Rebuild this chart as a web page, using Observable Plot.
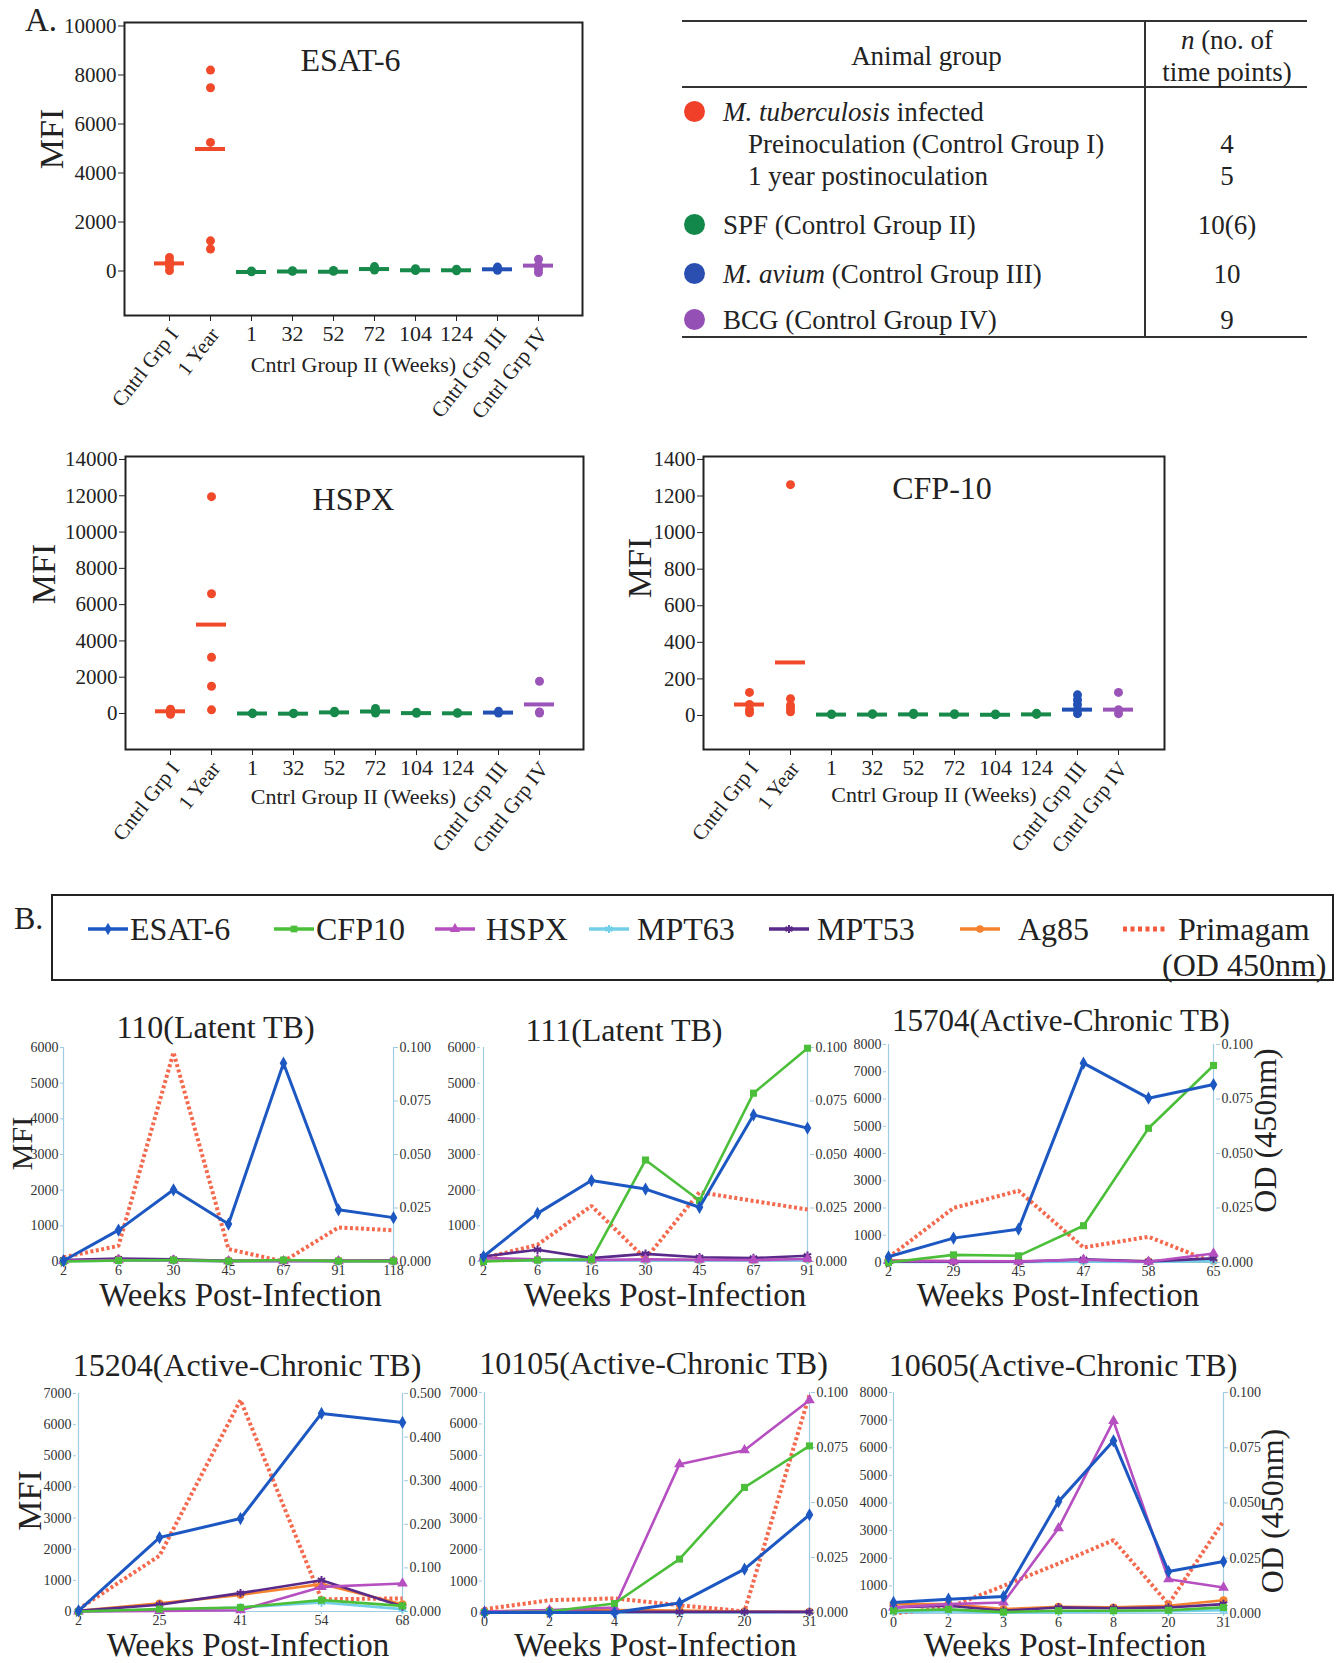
<!DOCTYPE html>
<html>
<head>
<meta charset="utf-8">
<title>Antigen responses</title>
<script src="https://cdn.jsdelivr.net/npm/d3@7"></script>
<script src="https://cdn.jsdelivr.net/npm/@observablehq/plot@0.6"></script>
<style>
html,body{margin:0;padding:0;background:#fff;}
#fig{position:relative;width:1343px;height:1663px;overflow:hidden;background:#fff;font-family:"Liberation Serif","Times New Roman",serif;color:#222;}
#fig > *{position:absolute;}
</style>
</head>
<body>
<div id="fig"></div>
<script>
// ================= DATA : Panel A (dot plots) =================
const groupCats = ["Cntrl Grp I","1 Year","1","32","52","72","104","124","Cntrl Grp III","Cntrl Grp IV"];
const rotatedCats = ["Cntrl Grp I","1 Year","Cntrl Grp III","Cntrl Grp IV"];
const weekCats = ["1","32","52","72","104","124"];
const groupColors = ["#f04a2a","#f04a2a","#17894a","#17894a","#17894a","#17894a","#17894a","#17894a","#2250b5","#9b55b8"];

// ESAT-6 (index into groupCats, value)
const esatDotGroup = [0,0,0,0, 1,1,1,1,1, 2,2, 3,3, 4,4, 5,5,5, 6,6, 7,7, 8,8,8, 9,9,9,9];
const esatDotVal   = [550,400,200,20, 8200,7480,5250,1230,900, -30,0, -10,10, -10,20, 40,120,180, 20,90, 10,70, 30,100,160, -60,80,220,480];
const esatMean     = [310, 4980, -40, -20, -30, 80, 30, 30, 70, 220];
const esatTicks    = [0, 2000, 4000, 6000, 8000, 10000];

// HSPX
const hspxDotGroup = [0,0,0,0, 1,1,1,1,1, 2,2, 3,3, 4,4, 5,5,5, 6,6, 7,7, 8,8, 9,9,9];
const hspxDotVal   = [240,150,60,-40, 11950,6600,3100,1500,200, -10,20, -10,10, 40,130, 20,110,280, 10,70, 10,40, 30,120, 1780,30,80];
const hspxMean     = [120, 4900, 0, -10, 60, 110, 20, 10, 50, 500];
const hspxTicks    = [0, 2000, 4000, 6000, 8000, 10000, 12000, 14000];

// CFP-10
const cfpDotGroup = [0,0,0,0, 1,1,1,1,1, 2,2, 3,3, 4,4, 5,5, 6,6, 7,7, 8,8,8,8,8, 9,9,9];
const cfpDotVal   = [126,60,32,15, 1262,92,55,38,20, 5,8, 6,10, 5,12, 5,10, 4,8, 6,12, 113,86,60,32,10, 126,32,10];
const cfpMean     = [60, 290, 5, 5, 6, 5, 4, 6, 32, 32];
const cfpTicks    = [0, 200, 400, 600, 800, 1000, 1200, 1400];

// Table
const tableLabels = ["<i>M. tuberculosis</i> infected","Preinoculation (Control Group I)","1 year postinoculation","SPF (Control Group II)","<i>M. avium</i> (Control Group III)","BCG (Control Group IV)"];
const tableCounts = ["","4","5","10(6)","10","9"];
const tableDotColors = ["#f0402a",null,null,"#12884a","#2a4fb0","#9550b5"];
const tableIndent = [false,true,true,false,false,false];

// ================= DATA : Panel B (line charts) =================
const seriesNames   = ["ESAT-6","CFP10","HSPX","MPT63","MPT53","Ag85"];
const seriesColors  = ["#1d58c2","#4cbf3a","#b650c0","#72cfe8","#5a2a8a","#f5822f"];
const seriesSymbols = ["diamond","square","triangle","asterisk","asterisk","circle"];
const primaName = "Primagam";
const primaColor = "#f35a3c";

const weeks110   = ["2","6","30","45","67","91","118"];
const esat110    = [20, 880, 2010, 1050, 5560, 1450, 1230];
const cfp110     = [0, 30, 40, 10, 40, 10, 10];
const hspx110    = [20, 40, 30, 10, 10, 10, 10];
const mpt63_110  = [10, 20, 20, 10, 10, 10, 10];
const mpt53_110  = [40, 80, 60, 20, 20, 20, 30];
const ag85_110   = [30, 60, 40, 20, 30, 20, 20];
const prima110   = [0.002, 0.0073, 0.0977, 0.0058, 0.0, 0.0159, 0.0146];

const weeks111   = ["2","6","16","30","45","67","91"];
const esat111    = [140, 1350, 2270, 2030, 1520, 4110, 3740];
const cfp111     = [0, 40, 60, 2845, 1710, 4720, 5980];
const hspx111    = [100, 60, 40, 60, 50, 40, 70];
const mpt63_111  = [20, 20, 20, 30, 30, 30, 40];
const mpt53_111  = [140, 330, 95, 215, 120, 95, 160];
const ag85_111   = [60, 40, 30, 40, 40, 40, 60];
const prima111   = [0.0016, 0.0078, 0.026, 0.0012, 0.0324, 0.0283, 0.0243];

const weeks15704  = ["2","29","45","47","58","65"];
const esat15704   = [210, 895, 1225, 7315, 6030, 6530];
const cfp15704    = [0, 280, 245, 1350, 4925, 7230];
const hspx15704   = [60, 50, 40, 100, 30, 330];
const mpt63_15704 = [20, 20, 20, 30, 20, 50];
const mpt53_15704 = [40, 30, 30, 120, 40, 150];
const ag85_15704  = [80, 40, 30, 60, 40, 60];
const prima15704  = [0.0023, 0.025, 0.0329, 0.0069, 0.0118, 0.0];

const weeks15204  = ["2","25","41","54","68"];
const esat15204   = [20, 2375, 2985, 6360, 6070];
const cfp15204    = [0, 75, 130, 365, 180];
const hspx15204   = [0, 20, 40, 790, 900];
const mpt63_15204 = [0, 40, 130, 290, 75];
const mpt53_15204 = [20, 215, 590, 1005, 160];
const ag85_15204  = [20, 260, 535, 880, 235];
const prima15204  = [0.0054, 0.128, 0.485, 0.028, 0.030];

const weeks10105  = ["0","2","4","7","20","31"];
const esat10105   = [0, 0, 0, 300, 1380, 3110];
const cfp10105    = [0, 30, 285, 1700, 3980, 5300];
const hspx10105   = [30, 75, 160, 4720, 5165, 6755];
const mpt63_10105 = [0, 0, 0, 0, 0, 10];
const mpt53_10105 = [20, 20, 20, 20, 20, 20];
const ag85_10105  = [40, 60, 80, 60, 30, 20];
const prima10105  = [0.0015, 0.0056, 0.0064, 0.0033, 0.0005, 0.099];

const weeks10605  = ["0","2","3","6","8","20","31"];
const esat10605   = [400, 520, 615, 4050, 6250, 1520, 1880];
const cfp10605    = [100, 150, 50, 100, 100, 120, 220];
const hspx10605   = [220, 340, 400, 3090, 6970, 1240, 940];
const mpt63_10605 = [50, 80, 30, 60, 70, 80, 120];
const mpt53_10605 = [220, 280, 100, 220, 190, 220, 340];
const ag85_10605  = [340, 340, 160, 240, 220, 280, 480];
const prima10605  = [0.0, 0.0027, 0.0125, 0.0226, 0.0332, 0.0042, 0.0419];

// ================= RENDERING =================
const fig = document.getElementById("fig");
const FONT = '"Liberation Serif", "Times New Roman", serif';
const AXIS_BLUE = "#9fcbe3";

function put(el, x, y) { el.style.left = x + "px"; el.style.top = y + "px"; fig.appendChild(el); return el; }
function div(html, x, y, css) {
  const d = document.createElement("div");
  d.innerHTML = html;
  if (css) d.style.cssText = css;
  return put(d, x, y);
}

// ---------- Panel A dot plots ----------
function dotPanel(p) {
  const dots = p.dotGroup.map((g, i) => ({cat: groupCats[g], v: p.dotVal[i], c: groupColors[g]}));
  const means = p.mean.map((v, i) => ({cat: groupCats[i], v, c: groupColors[i]}));
  const svg = Plot.plot({
    width: p.W, height: p.H,
    marginLeft: p.mL, marginRight: p.mR, marginTop: p.mT, marginBottom: p.mB,
    style: {background: "transparent", overflow: "visible", fontFamily: FONT, color: "#222"},
    x: {type: "band", domain: groupCats, paddingInner: 0.28, paddingOuter: 0.64, axis: null},
    y: {domain: p.yDomain, axis: null},
    color: {type: "identity"},
    marks: [
      Plot.axisY(p.yTicks, {anchor: "left", tickSize: 6, tickPadding: 2, fontSize: 21, tickFormat: "d", label: null, color: "#222"}),
      Plot.axisX(groupCats, {anchor: "bottom", tickSize: 6, tickPadding: 4, fontSize: 22, label: null, color: "#222",
        tickFormat: d => weekCats.includes(d) ? d : ""}),
      Plot.text(rotatedCats, {x: d => d, text: d => d, frameAnchor: "bottom", rotate: -52, textAnchor: "end", lineAnchor: "top",
        dx: -2, dy: 10, fontSize: 21, fill: "#222"}),
      Plot.tickY(means, {x: "cat", y: "v", stroke: "c", strokeWidth: 4}),
      Plot.dot(dots, {x: "cat", y: "v", fill: "c", r: 4.5}),
      Plot.frame({stroke: "#222", strokeWidth: 2}),
      Plot.text([p.title], {text: d => d, frameAnchor: "top", lineAnchor: "middle", dx: p.tdx, dy: p.tdy, fontSize: 32, fill: "#222"}),
      Plot.text(["MFI"], {text: d => d, frameAnchor: "left", textAnchor: "middle", lineAnchor: "middle", rotate: -90, dx: p.mdx, dy: p.mdy, fontSize: 34, fill: "#222"}),
      Plot.text(["Cntrl Group II (Weeks)"], {text: d => d, frameAnchor: "bottom", lineAnchor: "middle", dx: p.xdx, dy: p.xdy, fontSize: 22, fill: "#222"})
    ]
  });
  put(svg, p.left, p.top);
}

dotPanel({title: "ESAT-6", dotGroup: esatDotGroup, dotVal: esatDotVal, mean: esatMean, yTicks: esatTicks, yDomain: [-1816, 10143],
  left: 0, top: 0, W: 600, H: 430, mL: 124, mR: 18, mT: 22, mB: 115, tdx: -3, tdy: 38, mdx: -72, mdy: -30, xdx: 0, xdy: 49});
dotPanel({title: "HSPX", dotGroup: hspxDotGroup, dotVal: hspxDotVal, mean: hspxMean, yTicks: hspxTicks, yDomain: [-1985, 14165],
  left: 0, top: 430, W: 600, H: 440, mL: 125, mR: 17, mT: 26, mB: 121, tdx: -1, tdy: 43, mdx: -81, mdy: -29, xdx: -1, xdy: 47});
dotPanel({title: "CFP-10", dotGroup: cfpDotGroup, dotVal: cfpDotVal, mean: cfpMean, yTicks: cfpTicks, yDomain: [-186, 1416],
  left: 600, top: 430, W: 620, H: 440, mL: 103, mR: 56, mT: 26, mB: 121, tdx: 8, tdy: 32, mdx: -63, mdy: -35, xdx: 0, xdy: 45});

div("A.", 25, 4, "font-size:33px;line-height:33px;");

// ---------- Panel A table ----------
const line = (x, y, w, h) => div("", x, y, `width:${w}px;height:${h}px;background:#333;`);
line(682, 20, 625, 2);
line(682, 86, 625, 2);
line(682, 336, 625, 2);
line(1144, 20, 2, 318);
div("Animal group", 695, 40, "width:463px;text-align:center;font-size:27px;line-height:32px;");
div("<i>n</i> (no. of", 1146, 24, "width:162px;text-align:center;font-size:27px;line-height:32px;");
div("time points)", 1146, 56, "width:162px;text-align:center;font-size:27px;line-height:32px;");
const rowCenters = [112, 144, 176, 225, 274, 320];
tableLabels.forEach((lab, i) => {
  const cy = rowCenters[i];
  if (tableDotColors[i]) div("", 684, cy - 11, `width:21px;height:21px;border-radius:50%;background:${tableDotColors[i]};`);
  div(lab, tableIndent[i] ? 748 : 723, cy - 16, "font-size:27px;line-height:32px;white-space:nowrap;");
  if (tableCounts[i]) div(tableCounts[i], 1146, cy - 16, "width:162px;text-align:center;font-size:27px;line-height:32px;");
});

// ---------- Panel B legend ----------
div("", 51, 894, "width:1283px;height:87px;border:2px solid #222;box-sizing:border-box;");
div("B.", 14, 902, "font-size:32px;line-height:32px;");
const legendSwatchX = [88, 274, 435, 589, 769, 960, 1122];
const legendTextX = [130, 316, 486, 637, 817, 1018, 1178];
const legendNames = [...seriesNames, primaName];
legendNames.forEach((name, i) => {
  const isPrima = i === seriesNames.length;
  const col = isPrima ? primaColor : seriesColors[i];
  let sw;
  if (isPrima) {
    sw = `<svg width="46" height="20"><line x1="1" y1="10" x2="45" y2="10" stroke="${col}" stroke-width="5" stroke-dasharray="4,3.5"/></svg>`;
  } else {
    const symMap = {diamond: d3.symbolDiamond, square: d3.symbolSquare, triangle: d3.symbolTriangle, asterisk: d3.symbolAsterisk, circle: d3.symbolCircle};
    const path = d3.symbol(symMap[seriesSymbols[i]], 45)();
    const hollow = seriesSymbols[i] === "asterisk";
    sw = `<svg width="44" height="20"><line x1="0" y1="10" x2="40" y2="10" stroke="${col}" stroke-width="3.5"/><path transform="translate(20,10)" d="${path}" fill="${hollow ? "none" : col}" stroke="${col}" stroke-width="${hollow ? 2 : 0}"/></svg>`;
  }
  div(sw, legendSwatchX[i], 919, "line-height:0;");
  div(name, legendTextX[i], 912, "font-size:32px;line-height:34px;white-space:nowrap;");
});
div("(OD 450nm)", 1162, 948, "font-size:32px;line-height:34px;white-space:nowrap;");

// ---------- Panel B line charts ----------
function linePanel(p) {
  const k = p.ymax / p.rmax;
  const order = [5, 3, 4, 2, 1, 0];
  const prima = p.prima.map((od, i) => ({w: p.weeks[i], v: od * k}));
  const rTicks = d3.range(0, p.rmax + p.rstep / 2, p.rstep).map(v => v * k);
  const marks = [
    Plot.ruleY([0], {stroke: AXIS_BLUE, strokeWidth: 1.2}),
    Plot.ruleX([p.weeks[0], p.weeks[p.weeks.length - 1]], {stroke: AXIS_BLUE, strokeWidth: 1.2}),
    Plot.axisY(d3.range(0, p.ymax + 1, 1000), {anchor: "left", tickSize: 3, tickPadding: 2, fontSize: 14, stroke: AXIS_BLUE, fill: "#333", tickFormat: "d", label: null}),
    Plot.axisY(rTicks, {anchor: "right", tickSize: 4, tickPadding: 2, fontSize: 14, stroke: AXIS_BLUE, fill: "#333", tickFormat: d => (d / k).toFixed(3), label: null}),
    Plot.axisX(p.weeks, {anchor: "bottom", tickSize: 3, tickPadding: 1, fontSize: 14, stroke: AXIS_BLUE, fill: "#333", label: null}),
    Plot.line(prima, {x: "w", y: "v", stroke: primaColor, strokeOpacity: 0.9, strokeWidth: 4,
      strokeDasharray: "3,2.5", strokeLinecap: "butt", strokeLinejoin: "miter"})
  ];
  for (const si of order) {
    const vals = p.series[si];
    const data = vals.map((v, i) => ({w: p.weeks[i], v}));
    const hollow = seriesSymbols[si] === "asterisk";
    marks.push(Plot.line(data, {x: "w", y: "v", stroke: seriesColors[si], strokeWidth: si === 0 ? 3 : 2.6}));
    marks.push(Plot.dot(data, {x: "w", y: "v", symbol: seriesSymbols[si], r: 4,
      fill: hollow ? "none" : seriesColors[si], stroke: hollow ? seriesColors[si] : "none", strokeWidth: 2}));
  }
  marks.push(Plot.text([p.title], {text: d => d, frameAnchor: "top", lineAnchor: "middle", dx: p.tdx, dy: p.tdy, fontSize: p.tsize || 32, fill: "#222"}));
  marks.push(Plot.text(["Weeks Post-Infection"], {text: d => d, frameAnchor: "bottom", lineAnchor: "middle", dx: p.xdx, dy: p.xdy, fontSize: 33, fill: "#222"}));
  if (p.mfi) marks.push(Plot.text(["MFI"], {text: d => d, frameAnchor: "left", textAnchor: "middle", lineAnchor: "middle", rotate: -90, dx: p.mfi.dx, dy: p.mfi.dy, fontSize: p.mfi.size, fill: "#222"}));
  if (p.od) marks.push(Plot.text(["OD (450nm)"], {text: d => d, frameAnchor: "right", textAnchor: "middle", lineAnchor: "middle", rotate: -90, dx: p.od.dx, dy: p.od.dy, fontSize: p.od.size, fill: "#222"}));
  const svg = Plot.plot({
    width: p.W, height: p.H,
    marginLeft: p.mL, marginRight: p.mR, marginTop: p.mT, marginBottom: p.mB,
    style: {background: "transparent", overflow: "visible", fontFamily: FONT, color: "#222"},
    x: {type: "point", domain: p.weeks, padding: 0, axis: null},
    y: {domain: [0, p.ymax], axis: null},
    marks
  });
  put(svg, p.left, p.top);
}

linePanel({title: "110(Latent TB)", weeks: weeks110, series: [esat110, cfp110, hspx110, mpt63_110, mpt53_110, ag85_110], prima: prima110,
  ymax: 6000, rmax: 0.1, rstep: 0.025, left: 0, top: 990, W: 445, H: 330, mL: 63, mR: 52, mT: 57, mB: 59,
  tdx: -13, tdy: -20, xdx: 12, xdy: 34, mfi: {dx: -41, dy: -11, size: 30}});
linePanel({title: "111(Latent TB)", weeks: weeks111, series: [esat111, cfp111, hspx111, mpt63_111, mpt53_111, ag85_111], prima: prima111,
  ymax: 6000, rmax: 0.1, rstep: 0.025, left: 430, top: 990, W: 445, H: 330, mL: 50, mR: 66, mT: 57, mB: 59,
  tdx: -21, tdy: -17, xdx: 20, xdy: 34});
linePanel({title: "15704(Active-Chronic TB)", weeks: weeks15704, series: [esat15704, cfp15704, hspx15704, mpt63_15704, mpt53_15704, ag85_15704], prima: prima15704,
  ymax: 8000, rmax: 0.1, rstep: 0.025, left: 830, top: 990, W: 513, H: 330, mL: 56, mR: 128, mT: 54, mB: 58,
  tdx: 10, tdy: -23, tsize: 31, xdx: 7, xdy: 33, od: {dx: 50, dy: -23, size: 32}});
linePanel({title: "15204(Active-Chronic TB)", weeks: weeks15204, series: [esat15204, cfp15204, hspx15204, mpt63_15204, mpt53_15204, ag85_15204], prima: prima15204,
  ymax: 7000, rmax: 0.5, rstep: 0.1, left: 0, top: 1330, W: 445, H: 333, mL: 76, mR: 42, mT: 63, mB: 52,
  tdx: 7, tdy: -28, xdx: 8, xdy: 34, mfi: {dx: -46, dy: -2, size: 34}});
linePanel({title: "10105(Active-Chronic TB)", weeks: weeks10105, series: [esat10105, cfp10105, hspx10105, mpt63_10105, mpt53_10105, ag85_10105], prima: prima10105,
  ymax: 7000, rmax: 0.1, rstep: 0.025, left: 430, top: 1330, W: 445, H: 333, mL: 52, mR: 65, mT: 62, mB: 51,
  tdx: 7, tdy: -29, xdx: 9, xdy: 33});
linePanel({title: "10605(Active-Chronic TB)", weeks: weeks10605, series: [esat10605, cfp10605, hspx10605, mpt63_10605, mpt53_10605, ag85_10605], prima: prima10605,
  ymax: 8000, rmax: 0.1, rstep: 0.025, left: 830, top: 1330, W: 513, H: 333, mL: 62, mR: 120, mT: 62, mB: 50,
  tdx: 5, tdy: -27, xdx: 7, xdy: 32, od: {dx: 49, dy: 8, size: 32}});
</script>
</body>
</html>
